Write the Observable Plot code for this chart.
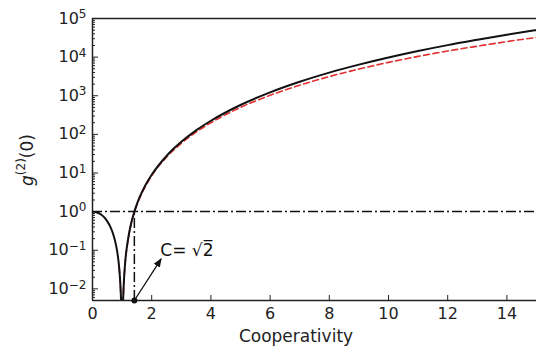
<!DOCTYPE html>
<html>
<head>
<meta charset="utf-8">
<script src="https://cdn.jsdelivr.net/npm/d3@7"></script>
<script src="https://cdn.jsdelivr.net/npm/@observablehq/plot@0.6"></script>
<style>
  html, body { margin: 0; padding: 0; background: #fff; }
  #chart svg { display: block; }
</style>
</head>
<body>
<div id="chart"></div>
<script>
// Cooperativity values and g2(0) for the full model (black) and approximation (red dashed)
const coopFull = [0, 0.1, 0.2, 0.3, 0.4, 0.5, 0.6, 0.7, 0.8, 0.85, 0.9, 0.95, 0.97, 1.0, 1.03, 1.05, 1.1, 1.2, 1.3, 1.414, 1.5, 1.6, 1.8, 2, 2.5, 3, 3.5, 4, 5, 6, 7, 8, 9, 10, 11, 12, 13, 14, 15];
const g2Full   = [1.00, 0.98, 0.92, 0.83, 0.71, 0.56, 0.41, 0.26, 0.13, 0.077, 0.036, 0.0095, 0.0035, 0.0001, 0.0037, 0.0105, 0.044, 0.19, 0.48, 1.0, 1.56, 2.43, 5.02, 9.0, 27.6, 64, 127, 225, 576, 1225, 2304, 3969, 6400, 9800, 14400, 20450, 28060, 38030, 50180];

const coopApprox = [0.9, 0.95, 0.97, 1.0, 1.03, 1.05, 1.1, 1.2, 1.3, 1.414, 1.5, 1.6, 1.8, 2, 2.5, 3, 3.5, 4, 5, 6, 7, 8, 9, 10, 11, 12, 13, 14, 15];
const g2Approx   = [0.036, 0.0095, 0.0035, 0.0001, 0.0037, 0.0104, 0.043, 0.18, 0.46, 0.96, 1.49, 2.3, 4.7, 8.5, 25.7, 58.6, 115, 200, 498, 1028, 1878, 3140, 4915, 7310, 10440, 14400, 19190, 25260, 32370];

// Reference level g2 = 1 and the crossing point C = sqrt(2)
const unityLevel = 1;
const crossingC = 1.414;

// Axis ticks
const xTicks = [0, 2, 4, 6, 8, 10, 12, 14];
const yTicks = [1e-2, 1e-1, 1e0, 1e1, 1e2, 1e3, 1e4, 1e5];
const yTickExponents = ["−2", "−1", "0", "1", "2", "3", "4", "5"];

// Annotation
const annotText = "C= √2̅";
const annotAt = {x: 2.29, y: 0.1};
const arrowTip = {x: 2.32, y: 0.06};

const xDomain = [0, 15];
const yDomain = [0.005, 1e5];

const full = coopFull.map((c, i) => ({c, g: g2Full[i]}));
const approx = coopApprox.map((c, i) => ({c, g: g2Approx[i]}));

// Minor log ticks (2..9 × each decade) inside the domain
const yMinor = [];
for (let e = -3; e <= 4; e++) {
  for (let k = 2; k <= 9; k++) {
    const v = k * Math.pow(10, e);
    if (v >= yDomain[0] && v <= yDomain[1]) yMinor.push(v);
  }
}

const font = "'DejaVu Sans', Verdana, sans-serif";

const plot = Plot.plot({
  width: 536,
  height: 347,
  marginLeft: 92,
  marginRight: 0,
  marginTop: 18,
  marginBottom: 47,
  style: {fontFamily: font, fontSize: "16px", color: "#222", background: "#fff"},
  x: {domain: xDomain},
  y: {type: "log", domain: yDomain},
  marks: [
    // frame: left, top, bottom
    Plot.ruleX([xDomain[0]], {stroke: "#222", strokeWidth: 1.5}),
    Plot.ruleY([yDomain[1]], {stroke: "#222", strokeWidth: 1.5}),
    Plot.ruleY([yDomain[0]], {stroke: "#222", strokeWidth: 1.5}),
    Plot.axisX({ticks: xTicks, tickSize: -5, tickPadding: 12, label: null, tickFormat: d => String(d), fontSize: 16, stroke: "#222"}),
    Plot.axisY({ticks: yMinor, tickSize: -3, tickFormat: null, label: null, stroke: "#222"}),
    Plot.axisY({ticks: yTicks, tickSize: -6, tickPadding: 12, label: null, fontSize: 16, stroke: "#222",
      tickFormat: d => "10^" + yTickExponents[yTicks.indexOf(d)], className: "ylog"}),
    // reference dash-dot lines
    Plot.ruleY([unityLevel], {x1: xDomain[0], x2: xDomain[1], stroke: "#111", strokeWidth: 1.5, strokeDasharray: "10,3,2,3"}),
    Plot.ruleX([crossingC], {y1: yDomain[0], y2: unityLevel, stroke: "#111", strokeWidth: 1.5, strokeDasharray: "10,3,2,3"}),
    // curves: approximation underneath, full model on top
    Plot.line(approx, {x: "c", y: "g", stroke: "#e03030", strokeWidth: 1.6, strokeDasharray: "6,3.5", curve: "monotone-x", clip: true}),
    Plot.line(full, {x: "c", y: "g", stroke: "#111", strokeWidth: 2, curve: "monotone-x", clip: true}),
    // annotation arrow (filled head added below)
    Plot.link([{x1: crossingC, y1: yDomain[0], x2: arrowTip.x, y2: arrowTip.y}],
      {x1: "x1", y1: "y1", x2: "x2", y2: "y2", stroke: "#111", strokeWidth: 1.3, className: "annot-arrow"}),
    Plot.dot([{x: crossingC, y: yDomain[0]}], {x: "x", y: "y", r: 3, fill: "#111", clip: false}),
    Plot.text([annotText], {x: annotAt.x, y: annotAt.y, text: d => d, textAnchor: "start", fontSize: 17, fill: "#111"})
  ]
});

document.getElementById("chart").appendChild(plot);

const svg = d3.select(plot);

// Filled triangular arrow head
svg.append("defs").append("marker")
  .attr("id", "arrow-head")
  .attr("viewBox", "0 0 10 10")
  .attr("refX", 9).attr("refY", 5)
  .attr("markerWidth", 9).attr("markerHeight", 9)
  .attr("markerUnits", "userSpaceOnUse")
  .attr("orient", "auto")
  .append("path").attr("d", "M0,1L10,5L0,9Z").attr("fill", "#111");
svg.selectAll("g.annot-arrow path").attr("marker-end", "url(#arrow-head)");

// Power-of-ten tick labels with a proper superscript
svg.selectAll("g.ylog text").each(function() {
  const t = d3.select(this);
  const s = t.text();
  if (!s.startsWith("10^")) return;
  const exp = s.slice(3);
  t.text(null);
  t.append("tspan").text("10");
  t.append("tspan").attr("dy", "-0.45em").attr("font-size", "12px").text(exp);
});

// Axis titles (the y title needs an italic g with a superscript)
svg.append("text")
  .attr("x", 296).attr("y", 337)
  .attr("text-anchor", "middle").attr("dominant-baseline", "middle")
  .attr("font-size", 17).attr("font-family", font).attr("fill", "#222")
  .text("Cooperativity");

const yt = svg.append("text")
  .attr("transform", "translate(28,160) rotate(-90)")
  .attr("text-anchor", "middle").attr("dominant-baseline", "middle")
  .attr("font-size", 17).attr("font-family", font).attr("fill", "#222");
yt.append("tspan").attr("font-style", "italic").text("g");
yt.append("tspan").attr("dy", -7).attr("font-size", 12).text("(2)");
yt.append("tspan").attr("dy", 7).text("(0)");
</script>
</body>
</html>
